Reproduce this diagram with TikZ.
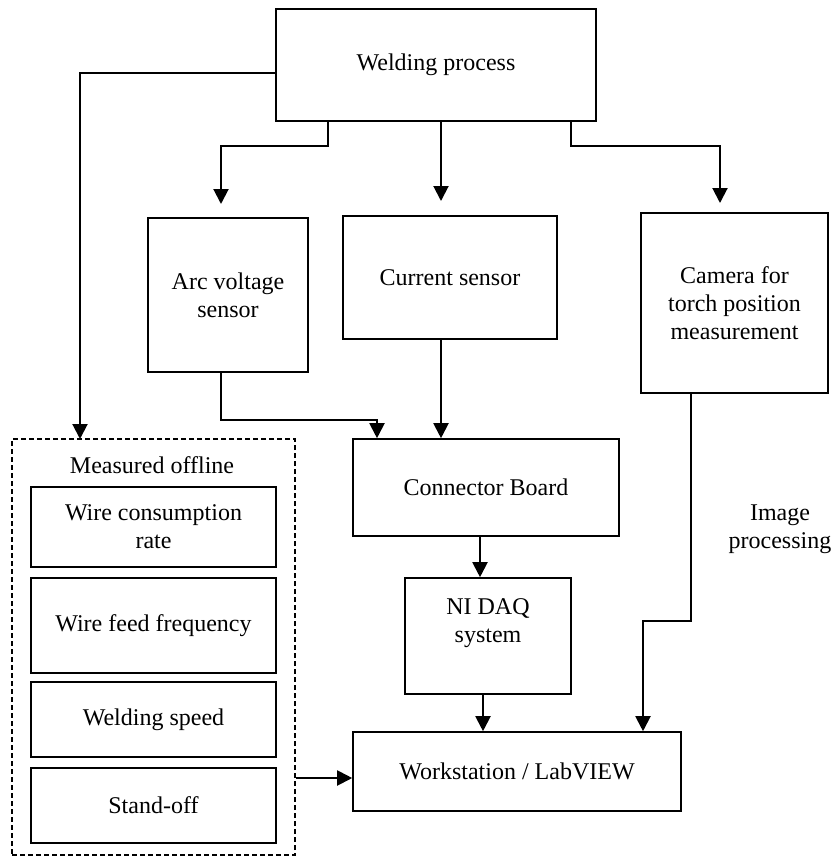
\documentclass[tikz,border=0pt]{standalone}
\usepackage{fontspec}
\setmainfont{Liberation Serif}
\usetikzlibrary{arrows.meta}

\begin{document}
\begin{tikzpicture}[x=0.5pt, y=-0.5pt, >={Triangle[length=7.5pt, width=7.5pt]},
    font=\fontsize{12}{14}\selectfont,
    box/.style={draw, line width=0.8pt, align=center, inner sep=0pt},
    link/.style={->, line width=1pt}]

    \useasboundingbox (0,0) rectangle (836,857);

    % 1. Proces i czujniki
    \node[box, minimum width=160pt, minimum height=56pt] (weld) at (436,65) {Welding process};
    \node[box, minimum width=80pt, minimum height=77pt] (arc) at (228,295) {Arc voltage\\sensor};
    \node[box, minimum width=107pt, minimum height=61.5pt] (cur) at (450,277.5) {Current sensor};
    \node[box, minimum width=93.5pt, minimum height=90pt] (cam) at (734.5,303) {Camera for\\torch position\\measurement};

    % 2. Akwizycja danych
    \node[box, minimum width=133pt, minimum height=48.5pt] (conn) at (486,487.5) {Connector Board};
    \node[box, minimum width=83pt, minimum height=58pt] (daq) at (488,636) {};
    \node[align=center] (daqtxt) at (488,623) {NI DAQ\\system};   % tekst wyzej niz srodek ramki
    \node[box, minimum width=164pt, minimum height=39.5pt] (work) at (517,771.5) {Workstation / LabVIEW};
    \node[align=center] (imgproc) at (780,529) {Image\\processing};

    % 3. Pomiary offline (ramka przerywana)
    \node[draw, dash pattern=on 2.5pt off 1.5pt, line width=0.6pt,
          minimum width=141.5pt, minimum height=208pt] (offline) at (153.5,647) {};
    \node (offlbl) at (152,465) {Measured offline};
    \node[box, minimum width=122.5pt, minimum height=40pt] (wcr) at (153.5,527) {Wire consumption\\rate};
    \node[box, minimum width=122.5pt, minimum height=47.5pt] (wff) at (153.5,625.5) {Wire feed frequency};
    \node[box, minimum width=122.5pt, minimum height=37.5pt] (wspeed) at (153.5,719.5) {Welding speed};
    \node[box, minimum width=122.5pt, minimum height=37.5pt] (stoff) at (153.5,805.5) {Stand-off};

    % 4. Konce strzalek
    \coordinate (arcin) at (221,204);
    \coordinate (curin) at (441,201);
    \coordinate (camin) at (720,203);
    \coordinate (offin) at (80,439);

    % 5. Polaczenia
    \draw[link] ([yshift=-4pt]weld.west) -| (offin);
    \draw[link] ([xshift=-54pt]weld.south) -- ++(0,24) -| (arcin);
    \draw[link] (weld.south -| curin) -- (curin);
    \draw[link] ([xshift=67.5pt]weld.south) -- ++(0,24) -| (camin);

    \draw[link] (arc.south -| arcin) -- ++(0,47) -| ([xshift=-54.5pt]conn.north);
    \draw[link] (cur.south -| curin) -- (conn.north -| curin);
    \draw[link] ([xshift=-3pt]conn.south) -- ([xshift=-3pt]conn.south |- daq.north);
    \draw[link] ([xshift=-2.5pt]daq.south) -- ([xshift=-2.5pt]daq.south |- work.north);
    \draw[link] ([xshift=-21.75pt]cam.south) -- ++(0,227) -| ([xshift=63pt]work.north);
    \draw[link] ([yshift=-3.25pt]work.west -| offline.east) -- ([yshift=-3.25pt]work.west);

\end{tikzpicture}
\end{document}
